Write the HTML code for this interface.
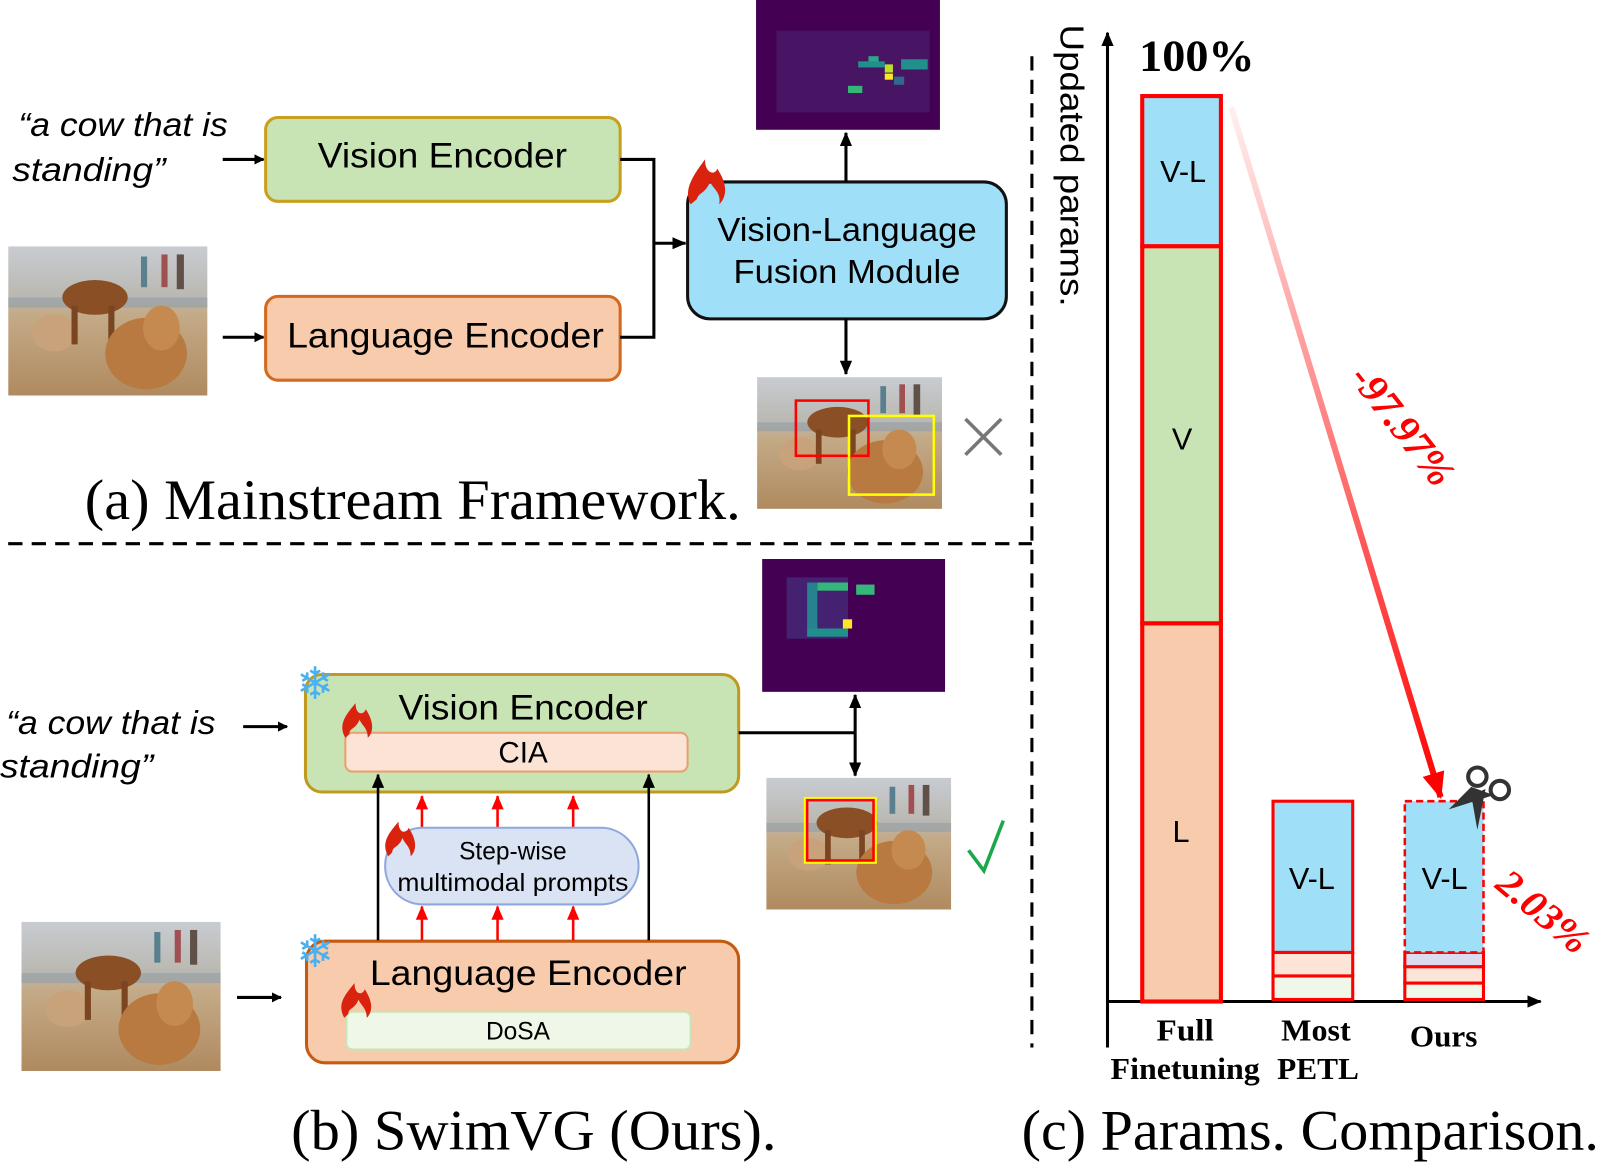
<!DOCTYPE html>
<html><head><meta charset="utf-8"><style>
html,body{margin:0;padding:0;background:#fff;}
svg{display:block}
text{font-family:"Liberation Sans",sans-serif;}
text.serif,.serif text{font-family:"Liberation Serif",serif;}
</style></head><body>
<svg width="1602" height="1164" viewBox="0 0 1568 1139" preserveAspectRatio="none" xmlns="http://www.w3.org/2000/svg">
<defs>
<marker id="ah" markerWidth="10" markerHeight="10" refX="9" refY="5" orient="auto" markerUnits="userSpaceOnUse"><path d="M0,0 L10,5 L0,10 z" fill="#000"/></marker>
<marker id="ahb" markerWidth="14" markerHeight="14" refX="13" refY="7" orient="auto" markerUnits="userSpaceOnUse"><path d="M0,1 L14,7 L0,13 z" fill="#000"/></marker>
<marker id="ahr" markerWidth="14" markerHeight="14" refX="13" refY="7" orient="auto" markerUnits="userSpaceOnUse"><path d="M0,1 L14,7 L0,13 z" fill="#f00"/></marker>
<marker id="ahR" markerWidth="28" markerHeight="28" refX="24" refY="14" orient="auto" markerUnits="userSpaceOnUse"><path d="M0,3 L26,14 L0,25 z" fill="#f00"/></marker>
<linearGradient id="sky" x1="0" y1="0" x2="0" y2="1"><stop offset="0" stop-color="#c8ccd2"/><stop offset="0.35" stop-color="#b9b7b0"/><stop offset="0.45" stop-color="#c4ab88"/><stop offset="1" stop-color="#b08a60"/></linearGradient>
<linearGradient id="redg" x1="1205" y1="105" x2="1410" y2="782" gradientUnits="userSpaceOnUse"><stop offset="0" stop-color="#fff0f0"/><stop offset="1" stop-color="#f00"/></linearGradient>
<symbol id="photo" viewBox="0 0 195 146" preserveAspectRatio="none">
<rect width="195" height="146" fill="url(#sky)"/>
<rect y="50" width="195" height="10" fill="#8a9aa8" opacity=".5"/>
<ellipse cx="45" cy="85" rx="22" ry="18" fill="#c8a27a"/>
<ellipse cx="85" cy="50" rx="32" ry="17" fill="#8a4f25"/>
<rect x="62" y="58" width="6" height="38" fill="#7a4520"/><rect x="98" y="58" width="6" height="38" fill="#7a4520"/>
<ellipse cx="135" cy="105" rx="40" ry="35" fill="#b87a40"/>
<ellipse cx="150" cy="80" rx="18" ry="22" fill="#c48a50"/>
<rect x="130" y="10" width="6" height="30" fill="#5a8090"/><rect x="150" y="8" width="6" height="32" fill="#a05050"/><rect x="165" y="8" width="7" height="34" fill="#605048"/>
</symbol>
</defs>

<!-- (a) -->
<text x="18" y="133" font-size="33" font-style="italic" textLength="205" lengthAdjust="spacingAndGlyphs">“a cow that is</text>
<text x="12" y="177" font-size="33" font-style="italic" textLength="150" lengthAdjust="spacingAndGlyphs">standing”</text>
<line x1="218" y1="156" x2="258" y2="156" stroke="#000" stroke-width="3" marker-end="url(#ah)"/>
<line x1="218" y1="330" x2="258" y2="330" stroke="#000" stroke-width="3" marker-end="url(#ah)"/>
<rect x="260" y="115" width="347" height="82" rx="12" fill="#c9e4b4" stroke="#c8a020" stroke-width="3"/>
<text x="433" y="164" font-size="34" text-anchor="middle" textLength="244" lengthAdjust="spacingAndGlyphs">Vision Encoder</text>
<rect x="260" y="290" width="347" height="82" rx="12" fill="#f8cbad" stroke="#d2691e" stroke-width="3"/>
<text x="436" y="340" font-size="34" text-anchor="middle" textLength="310" lengthAdjust="spacingAndGlyphs">Language Encoder</text>
<use href="#photo" x="8" y="241" width="195" height="146"/>
<polyline points="607,156 640,156 640,330 607,330" fill="none" stroke="#000" stroke-width="3"/>
<line x1="640" y1="238" x2="671" y2="238" stroke="#000" stroke-width="3" marker-end="url(#ahb)"/>
<rect x="673" y="178" width="312" height="134" rx="22" fill="#9fdff7" stroke="#111" stroke-width="3"/>
<text x="829" y="236" font-size="33" text-anchor="middle" textLength="254" lengthAdjust="spacingAndGlyphs">Vision-Language</text>
<text x="829" y="277" font-size="33" text-anchor="middle" textLength="222" lengthAdjust="spacingAndGlyphs">Fusion Module</text>
<path d="M676,200 C668,185 680,170 690,156 C690,170 700,172 702,165 C712,180 712,192 704,200 C706,188 698,185 695,178 C690,190 684,188 682,195 z" fill="#d9230f"/>
<line x1="828" y1="178" x2="828" y2="130" stroke="#000" stroke-width="3" marker-end="url(#ahb)"/>
<rect x="740" y="0" width="180" height="127" fill="#440154"/>
<rect x="760" y="30" width="150" height="80" fill="#471563"/>
<rect x="850" y="55" width="10" height="10" fill="#2ca58d"/><rect x="866" y="63" width="8" height="8" fill="#bddf26"/><rect x="866" y="72" width="8" height="6" fill="#fde725"/><rect x="840" y="60" width="26" height="6" fill="#21908d"/><rect x="882" y="58" width="26" height="10" fill="#21908d"/><rect x="830" y="84" width="14" height="7" fill="#35b779"/><rect x="875" y="75" width="10" height="8" fill="#31688e"/>
<line x1="828" y1="312" x2="828" y2="366" stroke="#000" stroke-width="3" marker-end="url(#ahb)"/>
<use href="#photo" x="741" y="369" width="181" height="129"/>
<rect x="779" y="392" width="71" height="54" fill="none" stroke="#f00" stroke-width="2.5"/>
<rect x="831" y="407" width="83" height="77" fill="none" stroke="#ff0" stroke-width="2.5"/>
<path d="M945,410 L980,445 M980,410 L945,445" stroke="#777" stroke-width="3.5"/>
<text x="83" y="508" class="serif" font-size="56" textLength="642" lengthAdjust="spacingAndGlyphs">(a) Mainstream Framework.</text>
<line x1="8" y1="532" x2="1010" y2="532" stroke="#000" stroke-width="3" stroke-dasharray="14,9"/>
<line x1="1010" y1="55" x2="1010" y2="1025" stroke="#000" stroke-width="3" stroke-dasharray="14,9"/>

<!-- (b) -->
<rect x="746" y="547" width="179" height="130" fill="#440154"/>
<rect x="770" y="565" width="60" height="60" fill="#46307e" opacity=".7"/>
<rect x="790" y="570" width="10" height="45" fill="#26828e"/><rect x="800" y="570" width="30" height="8" fill="#35b779"/><rect x="790" y="615" width="40" height="8" fill="#21908d"/><rect x="825" y="606" width="9" height="9" fill="#fde725"/><rect x="838" y="572" width="18" height="10" fill="#35b779"/>
<rect x="299" y="660" width="424" height="115" rx="16" fill="#c9e4b4" stroke="#c09a20" stroke-width="3"/>
<text x="512" y="704" font-size="34" text-anchor="middle" textLength="244" lengthAdjust="spacingAndGlyphs">Vision Encoder</text>
<rect x="338" y="717" width="335" height="38" rx="7" fill="#fbe3d5" stroke="#e8a070" stroke-width="2"/>
<text x="512" y="746" font-size="29" text-anchor="middle">CIA</text>
<text x="6" y="718" font-size="33" font-style="italic" textLength="205" lengthAdjust="spacingAndGlyphs">“a cow that is</text>
<text x="0" y="761" font-size="33" font-style="italic" textLength="150" lengthAdjust="spacingAndGlyphs">standing”</text>
<line x1="238" y1="711" x2="281" y2="711" stroke="#000" stroke-width="3" marker-end="url(#ah)"/>
<rect x="300" y="921" width="423" height="119" rx="18" fill="#f8cbad" stroke="#c55a11" stroke-width="3"/>
<text x="517" y="964" font-size="34" text-anchor="middle" textLength="310" lengthAdjust="spacingAndGlyphs">Language Encoder</text>
<rect x="339" y="990" width="337" height="37" rx="6" fill="#eef7e8" stroke="#c9e4b4" stroke-width="2"/>
<text x="507" y="1017" font-size="24" text-anchor="middle">DoSA</text>
<line x1="232" y1="976" x2="275" y2="976" stroke="#000" stroke-width="3" marker-end="url(#ah)"/>
<use href="#photo" x="21" y="902" width="195" height="146"/>
<line x1="370" y1="920" x2="370" y2="758" stroke="#000" stroke-width="2.5" marker-end="url(#ahb)"/>
<line x1="635" y1="920" x2="635" y2="758" stroke="#000" stroke-width="2.5" marker-end="url(#ahb)"/>
<g stroke="#f00" stroke-width="2.5">
<line x1="413" y1="810" x2="413" y2="779" marker-end="url(#ahr)"/><line x1="487" y1="810" x2="487" y2="779" marker-end="url(#ahr)"/><line x1="561" y1="810" x2="561" y2="779" marker-end="url(#ahr)"/>
<line x1="413" y1="920" x2="413" y2="887" marker-end="url(#ahr)"/><line x1="487" y1="920" x2="487" y2="887" marker-end="url(#ahr)"/><line x1="561" y1="920" x2="561" y2="887" marker-end="url(#ahr)"/>
</g>
<rect x="377" y="810" width="248" height="75" rx="37" fill="#dae3f3" stroke="#8fa8dc" stroke-width="2"/>
<text x="502" y="841" font-size="24" text-anchor="middle">Step-wise</text>
<text x="502" y="872" font-size="24" text-anchor="middle" textLength="226" lengthAdjust="spacingAndGlyphs">multimodal prompts</text>
<line x1="723" y1="717" x2="837" y2="717" stroke="#000" stroke-width="3"/>
<line x1="837" y1="717" x2="837" y2="680" stroke="#000" stroke-width="3" marker-end="url(#ahb)"/>
<line x1="837" y1="717" x2="837" y2="759" stroke="#000" stroke-width="3" marker-end="url(#ahb)"/>
<use href="#photo" x="750" y="761" width="181" height="129"/>
<rect x="788" y="781" width="69" height="63" fill="none" stroke="#ff0" stroke-width="2.5"/>
<rect x="790" y="783" width="65" height="59" fill="none" stroke="#f00" stroke-width="2.5"/>
<path d="M948,832 L963,852 L982,803" fill="none" stroke="#1aa84a" stroke-width="3.5"/>
<g fill="#4ab0f0" font-size="44"><text x="290" y="684">❄</text><text x="290" y="946">❄</text></g>
<g fill="#d9230f">
<path d="M338,722 C330,708 340,698 348,688 C348,700 356,700 358,694 C366,706 366,716 360,722 C360,712 354,710 352,704 C348,714 342,712 342,718 z"/>
<path d="M380,838 C372,824 382,814 390,804 C390,816 398,816 400,810 C408,822 408,832 402,838 C402,828 396,826 394,820 C390,830 384,828 384,834 z"/>
<path d="M337,996 C329,982 339,972 347,962 C347,974 355,974 357,968 C365,980 365,990 359,996 C359,986 353,984 351,978 C347,988 341,986 341,992 z"/>
</g>
<text x="285" y="1125" class="serif" font-size="56" textLength="475" lengthAdjust="spacingAndGlyphs">(b) SwimVG (Ours).</text>

<!-- (c) -->
<line x1="1084" y1="1025" x2="1084" y2="32" stroke="#000" stroke-width="3" marker-end="url(#ahb)"/>
<line x1="1084" y1="980" x2="1508" y2="980" stroke="#000" stroke-width="3" marker-end="url(#ahb)"/>
<text transform="translate(1038,24) rotate(90)" font-size="33" textLength="276" lengthAdjust="spacingAndGlyphs">Updated params.</text>
<text x="1115" y="69" class="serif" font-size="44" font-weight="bold" textLength="113" lengthAdjust="spacingAndGlyphs">100%</text>
<g stroke="#f00" stroke-width="4">
<rect x="1118" y="94" width="77" height="147" fill="#9fdff7"/>
<rect x="1118" y="241" width="77" height="369" fill="#c9e4b4"/>
<rect x="1118" y="610" width="77" height="370" fill="#f8cbad"/>
</g>
<g stroke="#f00" stroke-width="3">
<rect x="1246" y="784" width="78" height="148" fill="#9fdff7"/>
<rect x="1246" y="932" width="78" height="23" fill="#fce4d6"/>
<rect x="1246" y="955" width="78" height="23" fill="#eef7e8"/>
<rect x="1375" y="932" width="77" height="14" fill="#dcdcf0"/>
<rect x="1375" y="946" width="77" height="16" fill="#fce4d6"/>
<rect x="1375" y="962" width="77" height="16" fill="#eef7e8"/>
</g>
<rect x="1375" y="784" width="77" height="148" fill="#9fdff7" stroke="#f00" stroke-width="2.5" stroke-dasharray="7,4"/>
<g font-size="30" text-anchor="middle">
<text x="1158" y="178">V-L</text><text x="1157" y="440">V</text><text x="1156" y="824">L</text>
<text x="1284" y="870">V-L</text><text x="1414" y="870">V-L</text>
</g>
<line x1="1205" y1="105" x2="1410" y2="780" stroke="url(#redg)" stroke-width="6" marker-end="url(#ahR)"/>
<text transform="translate(1320,370) rotate(52)" class="serif" font-size="40" font-weight="bold" font-style="italic" fill="#f00" textLength="138" lengthAdjust="spacingAndGlyphs">-97.97%</text>
<text transform="translate(1462,868) rotate(40)" class="serif" font-size="38" font-weight="bold" font-style="italic" fill="#f00" textLength="105" lengthAdjust="spacingAndGlyphs">2.03%</text>
<g stroke="#333" stroke-width="4" fill="none"><circle cx="1446" cy="760" r="9"/><circle cx="1468" cy="773" r="9"/></g>
<path d="M1418,792 L1462,778 L1440,770 z M1446,812 L1454,772 L1440,778 z" fill="#333"/>
<g class="serif" font-size="30" font-weight="bold" text-anchor="middle">
<text x="1160" y="1018" textLength="56" lengthAdjust="spacingAndGlyphs">Full</text><text x="1160" y="1056" textLength="146" lengthAdjust="spacingAndGlyphs">Finetuning</text>
<text x="1288" y="1018" textLength="68" lengthAdjust="spacingAndGlyphs">Most</text><text x="1290" y="1056" textLength="80" lengthAdjust="spacingAndGlyphs">PETL</text>
<text x="1413" y="1024" textLength="66" lengthAdjust="spacingAndGlyphs">Ours</text>
</g>
<text x="1000" y="1125" class="serif" font-size="56" textLength="565" lengthAdjust="spacingAndGlyphs">(c) Params. Comparison.</text>
</svg>
</body></html>
